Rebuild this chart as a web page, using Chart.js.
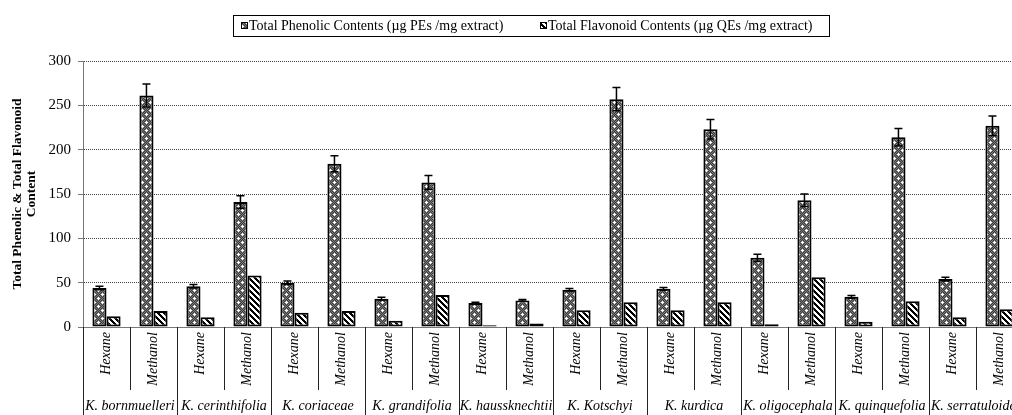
<!DOCTYPE html>
<html>
<head>
<meta charset="utf-8">
<script src="https://cdn.jsdelivr.net/npm/chart.js@4"></script>
<style>
  html, body { margin: 0; padding: 0; background: #fff; overflow: hidden; }
  #wrap { width: 1040px; height: 415px; }
</style>
</head>
<body>
<div id="wrap"><canvas id="chart" width="1040" height="415"></canvas></div>
<script>
// Data
const species = ['K. bornmuelleri', 'K. cerinthifolia', 'K. coriaceae', 'K. grandifolia', 'K. haussknechtii',
  'K. Kotschyi', 'K. kurdica', 'K. oligocephala', 'K. quinquefolia', 'K. serratuloides'];
const categories = ['Hexane', 'Methanol', 'Hexane', 'Methanol', 'Hexane', 'Methanol', 'Hexane', 'Methanol',
  'Hexane', 'Methanol', 'Hexane', 'Methanol', 'Hexane', 'Methanol', 'Hexane', 'Methanol',
  'Hexane', 'Methanol', 'Hexane', 'Methanol'];
const phenolic = [44, 261, 46, 141, 50, 184, 32, 163, 27, 30, 42, 257, 43, 223, 78, 143, 34, 214, 54, 227];
const phenolicErr = [2, 13, 2, 7, 2, 9, 1.5, 8, 1, 1, 1.5, 13, 1.5, 11, 4, 7, 1.5, 10, 2, 11];
const flavonoid = [12, 18, 11, 58, 16, 18, 7, 36, 2, 4, 19, 28, 19, 28, 3, 56, 6, 29, 11, 20];
const yTicks = [0, 50, 100, 150, 200, 250, 300];
const seriesNames = ['Total Phenolic Contents (\u00b5g PEs /mg extract)', 'Total Flavonoid Contents (\u00b5g QEs /mg extract)'];

const serif = '"Liberation Serif", "Times New Roman", serif';

// bar fills
function phenolicPattern() {
  const c = document.createElement('canvas');
  c.width = 8; c.height = 8;
  const g = c.getContext('2d');
  for (let y = 0; y < 8; y++) {
    for (let x = 0; x < 8; x++) {
      g.fillStyle = (x + y) % 2 ? '#3a3a3a' : '#7c7c7c';
      g.fillRect(x, y, 1, 1);
    }
  }
  g.fillStyle = '#fff';
  [[2, 2], [6, 6]].forEach(([x, y]) => {
    g.fillRect(x - 1, y, 3, 1);
    g.fillRect(x, y - 1, 1, 3);
  });
  return g.createPattern(c, 'repeat');
}

function flavonoidPattern() {
  const c = document.createElement('canvas');
  c.width = 6; c.height = 6;
  const g = c.getContext('2d');
  g.fillStyle = '#fff';
  g.fillRect(0, 0, 6, 6);
  g.fillStyle = '#000';
  for (let i = 0; i < 6; i++) {
    g.fillRect(i, i, 1, 1);
    g.fillRect((i + 1) % 6, i, 1, 1);
    g.fillRect((i + 2) % 6, i, 1, 1);
  }
  return g.createPattern(c, 'repeat');
}

const fills = [phenolicPattern(), flavonoidPattern()];

// error bars on the phenolic series
const errorBars = {
  id: 'errorBars',
  afterDatasetsDraw(chart) {
    const { ctx, scales: { y } } = chart;
    const meta = chart.getDatasetMeta(0);
    ctx.save();
    ctx.strokeStyle = '#000';
    ctx.lineWidth = 1.5;
    meta.data.forEach((bar, i) => {
      const top = y.getPixelForValue(phenolic[i] + phenolicErr[i]);
      const bot = y.getPixelForValue(phenolic[i] - phenolicErr[i]);
      const x = bar.x;
      ctx.beginPath();
      ctx.moveTo(x, top); ctx.lineTo(x, bot);
      ctx.moveTo(x - 4, top); ctx.lineTo(x + 4, top);
      ctx.moveTo(x - 4, bot); ctx.lineTo(x + 4, bot);
      ctx.stroke();
    });
    ctx.restore();
  }
};

// two-level category axis below the plot
const groupAxis = {
  id: 'groupAxis',
  afterDraw(chart) {
    const { ctx, chartArea, scales: { x } } = chart;
    const n = categories.length;
    const w = (x.right - x.left) / n;
    const base = chartArea.bottom;
    ctx.save();
    ctx.strokeStyle = '#222';
    ctx.lineWidth = 1;
    for (let i = 0; i <= n; i++) {
      const px = Math.round(x.left + i * w) + 0.5;
      ctx.beginPath();
      ctx.moveTo(px, base);
      ctx.lineTo(px, i % 2 === 0 ? chart.height : base + 63);
      ctx.stroke();
    }
    ctx.fillStyle = '#000';
    ctx.font = 'italic 14px ' + serif;
    categories.forEach((lab, i) => {
      ctx.save();
      ctx.translate(x.getPixelForValue(i), base + 5);
      ctx.rotate(-Math.PI / 2);
      ctx.textAlign = 'right';
      ctx.textBaseline = 'middle';
      ctx.fillText(lab, 0, 0);
      ctx.restore();
    });
    ctx.textAlign = 'center';
    ctx.textBaseline = 'middle';
    species.forEach((s, j) => {
      ctx.fillText(s, x.left + (2 * j + 1) * w, 406);
    });
    ctx.restore();
  }
};

// boxed legend at the top
const boxLegend = {
  id: 'boxLegend',
  afterDraw(chart) {
    const { ctx } = chart;
    ctx.save();
    ctx.strokeStyle = '#000';
    ctx.lineWidth = 1;
    ctx.strokeRect(233.5, 15.5, 596, 21);
    ctx.font = '14px ' + serif;
    ctx.textBaseline = 'middle';
    const starts = [241, 540];
    seriesNames.forEach((name, k) => {
      const x0 = starts[k];
      ctx.fillStyle = fills[k];
      ctx.fillRect(x0, 22, 7, 7);
      ctx.strokeRect(x0 + 0.5, 22.5, 6, 6);
      ctx.fillStyle = '#000';
      ctx.fillText(name, x0 + 8, 26.5);
    });
    ctx.restore();
  }
};

new Chart(document.getElementById('chart'), {
  type: 'bar',
  data: {
    labels: categories,
    datasets: [
      {
        label: seriesNames[0],
        data: phenolic,
        backgroundColor: fills[0],
        borderColor: '#000',
        borderWidth: 2,
        borderSkipped: false,
        categoryPercentage: 0.6,
        barPercentage: 1
      },
      {
        label: seriesNames[1],
        data: flavonoid,
        backgroundColor: fills[1],
        borderColor: '#000',
        borderWidth: 2,
        borderSkipped: false,
        categoryPercentage: 0.6,
        barPercentage: 1
      }
    ]
  },
  options: {
    responsive: false,
    animation: false,
    layout: { padding: { top: 61, right: 17, bottom: 0, left: 0 } },
    plugins: {
      legend: { display: false },
      tooltip: { enabled: false }
    },
    scales: {
      x: {
        ticks: { display: false },
        grid: { display: false },
        border: { display: true, color: '#777', width: 1 },
        afterFit(scale) { scale.height = 88; }
      },
      y: {
        min: 0,
        max: 300,
        afterBuildTicks(scale) { scale.ticks = yTicks.map(v => ({ value: v })); },
        ticks: { color: '#000', font: { family: serif, size: 15 }, padding: 7 },
        grid: { color: '#444', lineWidth: 1, tickLength: 5, tickColor: '#777', tickBorderDash: [] },
        border: { display: true, color: '#777', width: 1, dash: [1, 1] },
        title: {
          display: true,
          text: ['Total Phenolic & Total Flavonoid', 'Content'],
          color: '#000',
          font: { family: serif, size: 13.5, weight: 'bold', lineHeight: 1.04 },
          padding: { top: 10, bottom: 0 }
        },
        afterFit(scale) { scale.width = 83; }
      }
    }
  },
  plugins: [errorBars, groupAxis, boxLegend]
});
</script>
</body>
</html>
